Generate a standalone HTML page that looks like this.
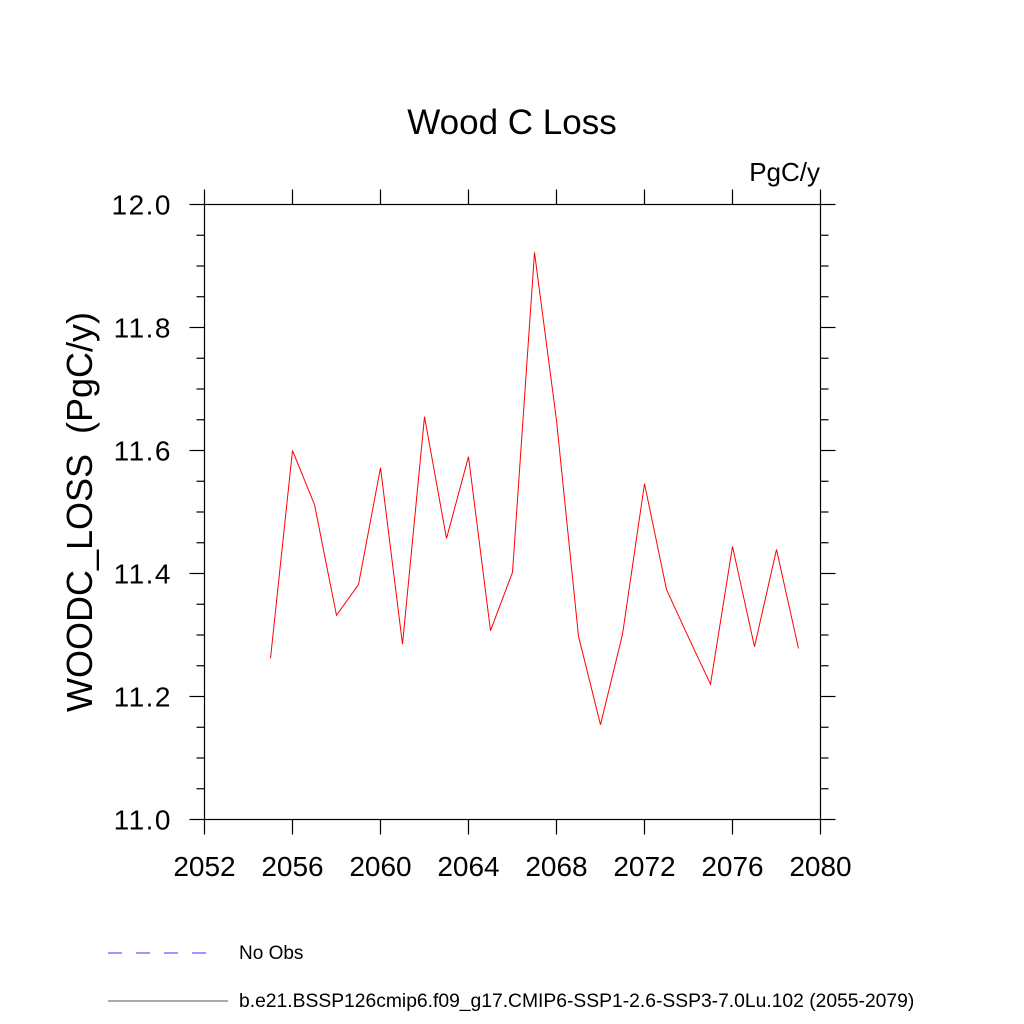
<!DOCTYPE html>
<html><head><meta charset="utf-8"><style>
body{margin:0;background:#fff}
svg{display:block}
text{font-family:"Liberation Sans",sans-serif}
</style></head><body>
<svg id="c" width="1024" height="1024" xmlns="http://www.w3.org/2000/svg">
<text x="512" y="134" font-size="35" text-anchor="middle">Wood C Loss</text>
<text x="820" y="181" font-size="26" text-anchor="end">PgC/y</text>
<text transform="translate(92,512) rotate(-90)" font-size="36" text-anchor="middle" style="white-space:pre">WOODC_LOSS  (PgC/y)</text>
<g id="axes"></g>
<g id="series"></g>
<line x1="108" y1="953" x2="218" y2="953" stroke="#3030ff" stroke-width="1" stroke-dasharray="14,14"/>
<text x="239" y="959" font-size="19">No Obs</text>
<line x1="108" y1="1001" x2="228" y2="1001" stroke="#555" stroke-width="1"/>
<text x="239" y="1007" font-size="19.3">b.e21.BSSP126cmip6.f09_g17.CMIP6-SSP1-2.6-SSP3-7.0Lu.102 (2055-2079)</text>
</svg>
<script>
const years=[2055,2056,2057,2058,2059,2060,2061,2062,2063,2064,2065,2066,2067,2068,2069,2070,2071,2072,2073,2074,2075,2076,2077,2078,2079];
const values=[11.262,11.600,11.512,11.332,11.382,11.572,11.285,11.655,11.457,11.590,11.307,11.402,11.922,11.649,11.298,11.154,11.301,11.546,11.374,11.296,11.220,11.444,11.281,11.439,11.278];
const xTicks=[2052,2056,2060,2064,2068,2072,2076,2080];
const yTicks=[11.0,11.2,11.4,11.6,11.8,12.0];
const L=204.5,R=820.5,T=204.5,B=819.5;
const xs=v=>L+(v-2052)/28*(R-L);
const ys=v=>B-(v-11)/1*(B-T);
const NS="http://www.w3.org/2000/svg";
const ax=document.getElementById('axes'),se=document.getElementById('series');
function mk(p,tag,at){const e=document.createElementNS(NS,tag);for(const k in at)e.setAttribute(k,at[k]);p.appendChild(e);return e;}
const frame=mk(ax,'rect',{x:L,y:T,width:R-L,height:B-T,fill:'none',stroke:'#000','stroke-width':1.2});


xTicks.forEach(t=>{
  const x=xs(t);
  const a=mk(ax,'line',{x1:x,y1:B,x2:x,y2:B+15,stroke:'#000','stroke-width':1.2});
  
  
  const b=mk(ax,'line',{x1:x,y1:T,x2:x,y2:T-15,stroke:'#000','stroke-width':1.2});
  
  
  const tx=mk(ax,'text',{x:x,y:876,'font-size':28,'text-anchor':'middle'});tx.textContent=t;
  
  
});
for(let i=0;i<=20;i++){
  const v=11+i*0.05,y=ys(v),maj=i%4===0,len=maj?15:8;
  const a=mk(ax,'line',{x1:L,y1:y,x2:L-len,y2:y,stroke:'#000','stroke-width':1.2});
  
  
  const b=mk(ax,'line',{x1:R,y1:y,x2:R+len,y2:y,stroke:'#000','stroke-width':1.2});
  
  
}
yTicks.forEach(t=>{
  const tx=mk(ax,'text',{x:172,y:ys(t)+10,'font-size':28,'text-anchor':'end','letter-spacing':'1.5'});tx.textContent=t.toFixed(1);
  
  
});
const line=mk(se,'polyline',{points:years.map((y,i)=>xs(y)+','+ys(values[i])).join(' '),fill:'none',stroke:'#ff0000','stroke-width':1});


</script>
</body></html>
